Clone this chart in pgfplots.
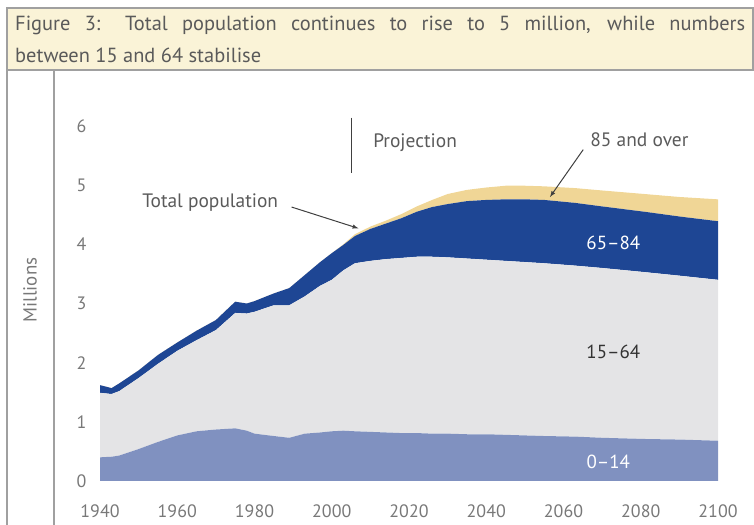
\documentclass[border=0pt]{standalone}
\usepackage{pgfplots}
\pgfplotsset{compat=1.18}
\usepackage{pgfplotstable}
\usepackage{fontspec}
\setmainfont{PT Sans}

\definecolor{titlebg}{RGB}{250,243,215}
\definecolor{frame}{RGB}{160,160,160}
\definecolor{txt}{RGB}{90,90,90}
\definecolor{ticktxt}{RGB}{120,120,120}
\definecolor{kids}{RGB}{128,145,192}
\definecolor{work}{RGB}{228,228,230}
\definecolor{old}{RGB}{30,70,148}
\definecolor{vold}{RGB}{240,214,150}

% year, 0-14, 15-64, 65-84, 85+ (millions)
\pgfplotstableread{
year  a     b     c     d
1940  0.40  1.09  0.13  0
1943  0.41  1.06  0.10  0
1945  0.43  1.09  0.13  0
1950  0.54  1.20  0.13  0
1955  0.66  1.32  0.15  0
1960  0.77  1.43  0.14  0
1965  0.84  1.54  0.16  0
1970  0.87  1.68  0.17  0
1975  0.89  1.95  0.19  0
1978  0.85  1.98  0.17  0
1980  0.80  2.06  0.18  0
1985  0.76  2.21  0.20  0
1989  0.73  2.24  0.29  0
1993  0.80  2.32  0.36  0
1997  0.82  2.48  0.40  0
2000  0.84  2.56  0.45  0
2003  0.85  2.71  0.43  0.01
2006  0.84  2.84  0.46  0.03
2010  0.83  2.89  0.54  0.04
2014  0.82  2.93  0.60  0.05
2018  0.81  2.96  0.67  0.07
2022  0.81  2.98  0.76  0.09
2026  0.80  2.99  0.84  0.12
2030  0.80  2.98  0.90  0.17
2035  0.79  2.97  0.97  0.19
2040  0.79  2.95  1.01  0.21
2045  0.78  2.94  1.04  0.23
2050  0.77  2.93  1.06  0.23
2055  0.76  2.92  1.07  0.23
2063  0.75  2.89  1.06  0.25
2070  0.73  2.87  1.04  0.27
2081  0.71  2.82  1.02  0.30
2090  0.70  2.77  1.00  0.33
2100  0.68  2.72  0.99  0.37
}\pop

\begin{document}
\begin{tikzpicture}[x=1bp,y=1bp]
\useasboundingbox (0,0) rectangle (754,525);
% title box
\draw[frame, line width=1.2bp, fill=titlebg] (7,517) rectangle (753,455);
\node[anchor=base west, inner sep=0, text=txt, font=\fontsize{20.5}{23}\selectfont] at (15,494)
  {\makebox[730bp][s]{Figure 3: Total population continues to rise to 5 million, while numbers}};
\node[anchor=base west, inner sep=0, text=txt, font=\fontsize{20.5}{23}\selectfont] at (15,462)
  {between 15 and 64 stabilise};
\draw[frame, line width=1.2bp] (7,455) -- (7,0);
\draw[frame, line width=1.2bp] (54,455) -- (54,0);
\node[rotate=90, text=ticktxt, font=\fontsize{19}{21}\selectfont] at (30,235) {Millions};

\begin{axis}[
  at={(100bp,44bp)}, anchor=south west,
  scale only axis, width=618bp, height=384.6bp,
  xmin=1940, xmax=2100, ymin=0, ymax=6.5,
  stack plots=y, clip=false,
  axis line style={draw=none}, major tick length=0,
  xtick={1940,1960,...,2100}, ytick={0,1,...,6},
  /pgf/number format/1000 sep={},
  /pgf/number format/assume math mode=true,
  ticklabel style={text=ticktxt, font=\fontsize{18}{20}\selectfont},
  xticklabel style={yshift=-20bp},
  yticklabel style={xshift=-10bp},
  after end axis/.code={
    \draw[black!75, line width=1.2bp] (axis cs:2005.2,6.14) -- (axis cs:2005.2,5.21);
    \node[anchor=west, inner sep=0, text=txt, font=\fontsize{19.5}{21}\selectfont] at (axis cs:2010.7,5.72) {Projection};
    \node[anchor=west, inner sep=0, text=txt, font=\fontsize{19.5}{21}\selectfont] at (axis cs:1950.9,4.71) {Total population};
    \draw[-latex, black!75, line width=1bp] (axis cs:1989.6,4.63) -- (axis cs:2006.9,4.27);
    \node[anchor=west, inner sep=0, text=txt, font=\fontsize{19.5}{21}\selectfont] at (axis cs:2066.9,5.77) {85 and over};
    \draw[-latex, black!75, line width=1bp] (axis cs:2065.1,5.60) -- (axis cs:2056.5,4.80);
    \node[text=white, font=\fontsize{19}{21}\selectfont] at (axis cs:2072.9,4.03) {65--84};
    \node[text=black!80, font=\fontsize{19}{21}\selectfont] at (axis cs:2072.9,2.19) {15--64};
    \node[text=white, font=\fontsize{19}{21}\selectfont] at (axis cs:2071.6,0.33) {0--14};
  },
]
\addplot[fill=kids, draw=none] table[x=year, y=a] {\pop} \closedcycle;
\addplot[fill=work, draw=none] table[x=year, y=b] {\pop} \closedcycle;
\addplot[fill=old, draw=none] table[x=year, y=c] {\pop} \closedcycle;
\addplot[fill=vold, draw=none] table[x=year, y=d] {\pop} \closedcycle;
\end{axis}
\end{tikzpicture}
\end{document}
